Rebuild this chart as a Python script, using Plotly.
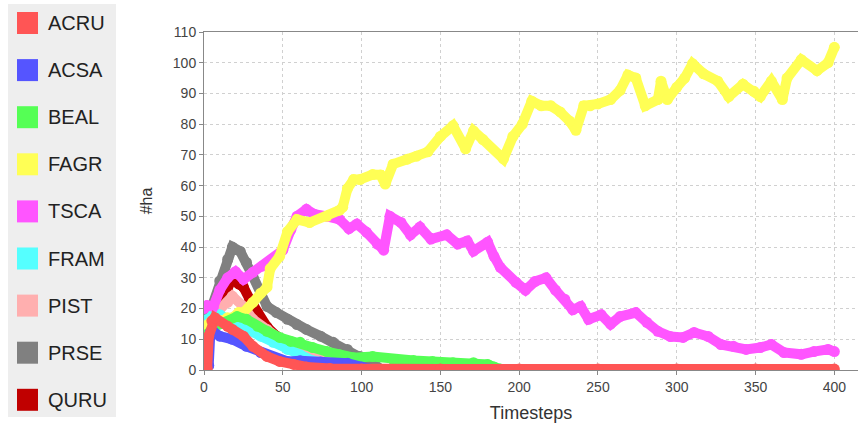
import plotly.graph_objects as go

# ---- data (timestep, #ha) ----
names = ["ACRU", "ACSA", "BEAL", "FAGR", "TSCA", "FRAM", "PIST", "PRSE", "QURU"]
colors = ["#ff5555", "#5555ff", "#55ff55", "#ffff55", "#ff55ff", "#55ffff", "#ffafaf", "#808080", "#c00000"]

acru_t = [0, 2, 3, 5, 7, 15, 18, 25, 31, 40, 48, 57, 65, 80, 100, 150, 200, 250, 300, 350, 400]
acru_v = [0.3, 0.5, 11, 16, 17, 14.2, 13.2, 11, 7.7, 4.4, 2.8, 1.8, 1, 0.5, 0.3, 0.3, 0.3, 0.3, 0.3, 0.3, 0.3]

acsa_t = [0, 3, 4, 6, 10, 18, 27, 36, 44, 53, 61, 74, 91, 100, 105]
acsa_v = [0.5, 1.5, 12, 12.5, 11, 10, 7.7, 5.7, 4, 2.8, 3, 2.6, 2.2, 1, 0.3]

beal_t = [0, 3, 6, 10, 15, 21, 27, 34, 40, 48, 55, 61, 69, 78, 86, 95, 107, 120, 133, 145, 158, 171, 180, 184, 188]
beal_v = [11, 12, 14, 15, 15.5, 17.4, 16.5, 14.2, 12.6, 10.6, 9.3, 9, 7.3, 6, 5, 4, 4.4, 3.4, 3.1, 2.8, 2.4, 2.4, 1.8, 1, 0.3]

fagr_t = [0, 5, 10, 15, 18, 22, 25, 31, 36, 40, 42, 48, 53, 59, 67, 78, 86, 88, 91, 95, 99, 107, 112, 115, 120,
          129, 135, 142, 150, 158, 166, 171, 177, 190, 196, 202, 208, 214, 220, 226, 232, 236, 241, 245, 250,
          258, 264, 269, 274, 280, 288, 290, 294, 300, 305, 310, 317, 326, 333, 342, 349, 353, 360, 367, 370,
          379, 389, 396, 400]
fagr_v = [14, 16, 16, 17, 17, 18.7, 18.7, 22, 25, 27, 33, 37, 45, 49, 48, 50, 52, 53, 59, 62, 62, 63.6, 63.5, 60.5, 67,
          68.6, 69.6, 71, 76, 79.5, 72, 77.8, 75, 68.7, 76, 80, 87.5, 86, 86, 84, 81, 78, 86, 86, 86.6,
          88, 91, 96, 95, 86, 88, 94, 88, 92, 95, 99.7, 96.4, 94, 89, 93, 90.7, 89, 94, 88, 95,
          101, 97.4, 100, 105]

tsca_t = [0, 2, 6, 10, 15, 20, 25, 31, 37, 44, 50, 55, 59, 65, 70, 78, 86, 92, 97, 103, 110, 114, 118, 125, 131,
          137, 144, 154, 161, 167, 171, 180, 184, 188, 198, 204, 210, 217, 223, 229, 234, 239, 244, 252, 258,
          264, 274, 281, 288, 296, 304, 311, 320, 328, 336, 344, 353, 360, 368, 379, 387, 396, 400]
tsca_v = [20, 21, 20.7, 26, 30, 32, 29.5, 31.8, 33.8, 36, 39, 45.5, 50, 52.3, 50.7, 50, 49, 46, 47.5, 44.9, 41, 39, 50, 48, 44,
          46.5, 42.6, 44, 41, 42, 38.7, 41.6, 37, 33.4, 28.5, 26, 28.8, 30, 26, 23, 19.6, 20.7, 16.5, 18, 14.9,
          17.4, 18.7, 15.5, 12.6, 10.9, 10.6, 12.2, 10.9, 8.3, 7.7, 6.7, 7.3, 8.3, 5.7, 5.1, 6.0, 6.7, 6]

fram_t = [0, 2, 6, 10, 14, 20, 28, 36, 44, 53, 61, 69, 78, 86, 95, 100]
fram_v = [15, 16.4, 18.4, 18, 16.4, 15, 13, 11, 9, 6.7, 5, 3, 2.2, 1.8, 1, 0.3]

pist_t = [0, 5, 10, 15, 18, 25, 31, 40, 48, 57, 67, 80, 90, 100]
pist_v = [14, 16, 19.7, 22, 24, 20.7, 16.5, 13.2, 10, 7.7, 5.7, 3.4, 2, 0.8]

prse_t = [0, 5, 10, 15, 18, 23, 27, 31, 36, 40, 46, 53, 59, 65, 74, 82, 91, 99, 105, 110]
prse_v = [13, 20, 29, 36, 40, 38.6, 35, 30.5, 25, 20.7, 18.7, 16.5, 14.8, 13.2, 11, 9, 6.7, 4.4, 2.5, 1]

quru_t = [0, 5, 10, 15, 18, 22, 25, 29, 34, 40, 46, 53, 61, 69, 80, 90, 100, 105]
quru_v = [13, 16, 21, 26, 30, 28, 27, 23, 18.6, 14, 11, 9, 6.7, 5.7, 3.7, 2.2, 1, 0.3]

series_t = [acru_t, acsa_t, beal_t, fagr_t, tsca_t, fram_t, pist_t, prse_t, quru_t]
series_v = [acru_v, acsa_v, beal_v, fagr_v, tsca_v, fram_v, pist_v, prse_v, quru_v]

x_ticks = [0, 50, 100, 150, 200, 250, 300, 350, 400]
y_ticks = [0, 10, 20, 30, 40, 50, 60, 70, 80, 90, 100, 110]

# ---- layout geometry (pixels) ----
W, H = 858, 427
ML, MR, MT, MB = 204, 0, 32, 57
PW, PH = W - ML - MR, H - MT - MB


def px(x):
    return (x - ML) / PW


def py(y):
    return (H - MB - y) / PH


fig = go.Figure()
# series 0 is drawn on top -> add in reverse order
for i in reversed(range(len(names))):
    fig.add_trace(go.Scatter(
        x=series_t[i], y=series_v[i], name=names[i], mode="lines+markers",
        line=dict(color=colors[i], width=10),
        marker=dict(color=colors[i], size=11, line=dict(width=0)),
        showlegend=False, hoverinfo="x+y+name"))

shapes = [dict(type="rect", xref="paper", yref="paper",
               x0=px(8), x1=px(116), y0=py(417), y1=py(4),
               fillcolor="#eeeeee", line=dict(width=0), layer="below")]
annotations = []
for i, n in enumerate(names):
    cy = 23 + 47.1 * i
    shapes.append(dict(type="rect", xref="paper", yref="paper",
                       x0=px(17), x1=px(38), y0=py(cy + 11), y1=py(cy - 11),
                       fillcolor=colors[i], line=dict(width=0)))
    annotations.append(dict(xref="paper", yref="paper", x=px(46), y=py(cy),
                            xanchor="left", yanchor="middle", showarrow=False,
                            text=n, font=dict(family="Liberation Sans, Arial, sans-serif",
                                              size=20, color="#222222")))

axis_font = dict(family="Liberation Sans, Arial, sans-serif", size=14, color="#444444")
fig.update_layout(
    width=W, height=H,
    margin=dict(l=ML, r=MR, t=MT, b=MB, pad=0),
    paper_bgcolor="white", plot_bgcolor="white",
    shapes=shapes, annotations=annotations,
    xaxis=dict(range=[0, 415], tickvals=x_ticks, ticks="outside", ticklen=4,
               tickcolor="#888888", showline=True, linecolor="#888888", mirror=True,
               showgrid=True, gridcolor="#d0d0d0", griddash="3px,3px", zeroline=False,
               tickfont=axis_font,
               title=dict(text="Timesteps", font=dict(family="Liberation Sans, Arial, sans-serif",
                                                      size=18, color="#333333"), standoff=12)),
    yaxis=dict(range=[0, 110], tickvals=y_ticks, ticks="outside", ticklen=4,
               tickcolor="#888888", showline=True, linecolor="#888888",
               showgrid=True, gridcolor="#d0d0d0", griddash="3px,3px", zeroline=False,
               tickfont=axis_font,
               title=dict(text="#ha", font=dict(family="Liberation Sans, Arial, sans-serif",
                                                size=16, color="#333333"), standoff=16)),
)

fig.write_html("out.html")
